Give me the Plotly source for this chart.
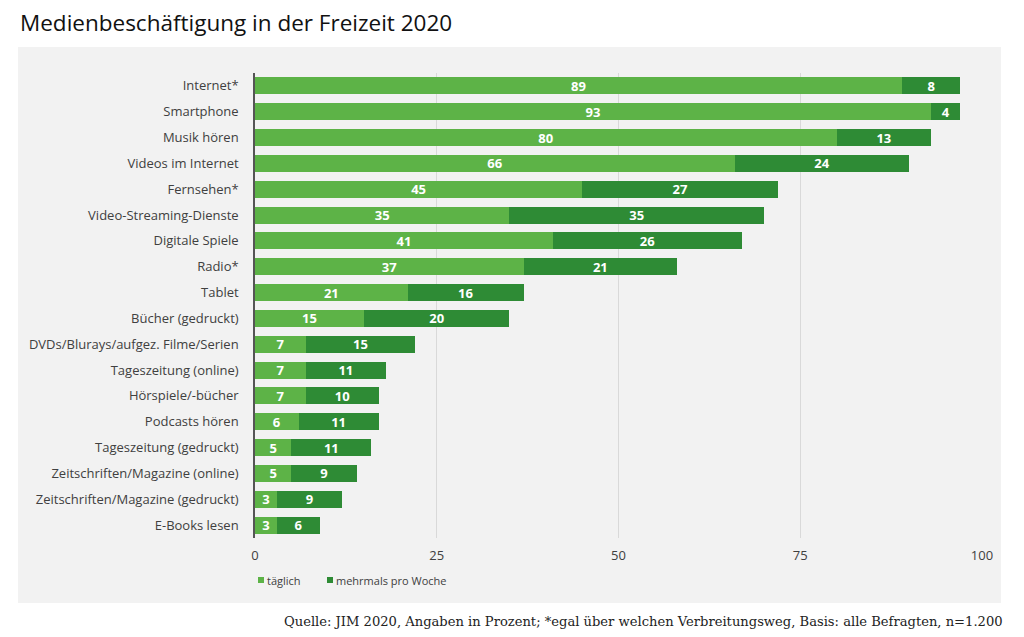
import plotly.graph_objects as go

categories = ["Internet*", "Smartphone", "Musik hören", "Videos im Internet", "Fernsehen*",
              "Video-Streaming-Dienste", "Digitale Spiele", "Radio*", "Tablet", "Bücher (gedruckt)",
              "DVDs/Blurays/aufgez. Filme/Serien", "Tageszeitung (online)", "Hörspiele/-bücher",
              "Podcasts hören", "Tageszeitung (gedruckt)", "Zeitschriften/Magazine (online)",
              "Zeitschriften/Magazine (gedruckt)", "E-Books lesen"]
taeglich = [89, 93, 80, 66, 45, 35, 41, 37, 21, 15, 7, 7, 7, 6, 5, 5, 3, 3]
mehrmals = [8, 4, 13, 24, 27, 35, 26, 21, 16, 20, 15, 11, 10, 11, 11, 9, 9, 6]
series_names = ["täglich", "mehrmals pro Woche"]
x_ticks = [0, 25, 50, 75, 100]

LIGHT = "#5DB347"
DARK = "#2E8B35"
BG = "#F2F2F2"
FONT = "Open Sans"

OFF = 8  # page body margin offset
W, H = 1024 - OFF, 637 - OFF
# target pixel positions in the screenshot
AX_L, AX_R, AX_T, AX_B = 255, 982, 73, 538
L = AX_L - OFF
R = W - (AX_R - OFF)
T = AX_T - OFF
B = H - (AX_B - OFF)
pw = W - L - R
ph = H - T - B

def px_x(px):
    return (px - OFF - L) / pw

def px_y(py):
    return (H - B - (py - OFF)) / ph

fig = go.Figure()
for name, vals, col in [(series_names[0], taeglich, LIGHT), (series_names[1], mehrmals, DARK)]:
    fig.add_trace(go.Bar(y=categories, x=vals, orientation="h", name=name,
                         marker=dict(color=col, line=dict(width=0)),
                         text=[str(v) for v in vals], textposition="inside",
                         insidetextanchor="middle", textangle=0,
                         textfont=dict(color="white", size=13, family=FONT, weight="bold"),
                         showlegend=False))

fig.add_shape(type="rect", xref="paper", yref="paper",
              x0=px_x(18), x1=px_x(1001), y0=px_y(603), y1=px_y(47),
              fillcolor=BG, line=dict(width=0), layer="below")

# legend (squares + labels)
legend_items = [(258, 265, LIGHT, series_names[0]), (327, 334, DARK, series_names[1])]
annotations = []
for sx, tx, col, name in legend_items:
    fig.add_shape(type="rect", xref="paper", yref="paper",
                  x0=px_x(sx), x1=px_x(sx + 6), y0=px_y(583), y1=px_y(577),
                  fillcolor=col, line=dict(width=0), layer="above")
    annotations.append(dict(text=name, xref="paper", yref="paper", x=px_x(tx), y=px_y(580),
                            xanchor="left", yanchor="middle", showarrow=False,
                            font=dict(family=FONT, size=11, color="#404040")))

annotations.append(dict(text="Quelle: JIM 2020, Angaben in Prozent; *egal über welchen Verbreitungsweg, Basis: alle Befragten, n=1.200",
                        xref="paper", yref="paper", x=px_x(1005), y=px_y(621),
                        xanchor="right", yanchor="middle", showarrow=False,
                        font=dict(family="DejaVu Serif", size=13.1, color="#222222")))

# title as annotation
annotations.append(dict(text="Medienbeschäftigung in der Freizeit 2020", xref="paper", yref="paper",
                        x=px_x(18), y=px_y(22), xanchor="left", yanchor="middle", showarrow=False,
                        font=dict(family=FONT, size=22.5, color="#111111")))

fig.update_layout(
    width=W, height=H,
    margin=dict(l=L, r=R, t=T, b=B),
    barmode="stack", bargap=0.34,
    paper_bgcolor="white", plot_bgcolor=BG,
    font=dict(family=FONT, color="#404040", size=13),
    uniformtext=dict(minsize=8, mode="show"),
    showlegend=False,
    xaxis=dict(range=[0, 100], tickvals=x_ticks, ticktext=[str(v) for v in x_ticks],
               showgrid=True, gridcolor="#D9D9D9", gridwidth=1, zeroline=False,
               showline=False, ticks="", tickfont=dict(size=13, color="#404040"),
               ticklabelstandoff=8),
    yaxis=dict(autorange="reversed", showgrid=False, ticks="", showline=True,
               linecolor="#555555", linewidth=1.5, ticklabelstandoff=12,
               tickfont=dict(size=13, color="#404040")),
    annotations=annotations,
)

fig.write_html("out.html")
